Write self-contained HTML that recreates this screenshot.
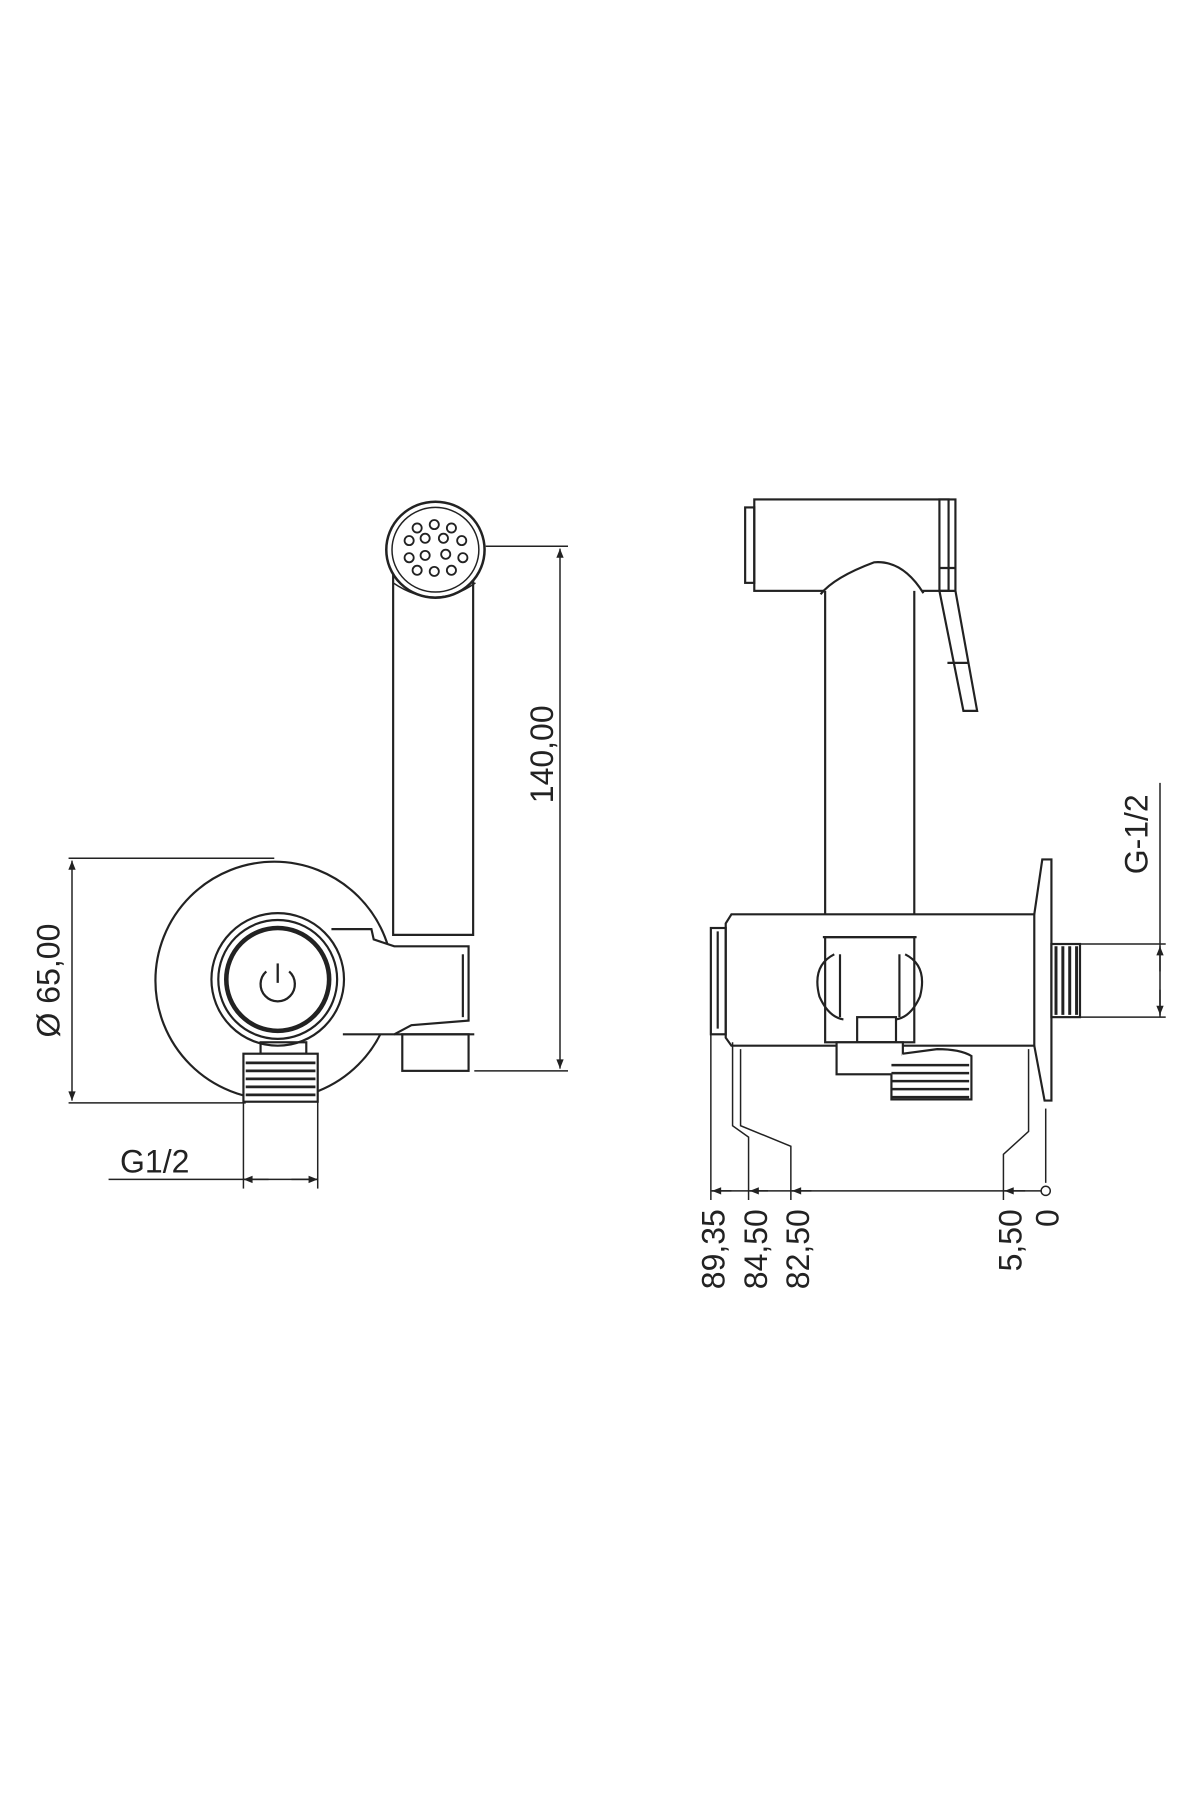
<!DOCTYPE html>
<html><head><meta charset="utf-8"><style>html,body{margin:0;padding:0;background:#fff}svg{display:block}</style></head>
<body>
<svg width="1200" height="1800" viewBox="0 0 1050 1575" xmlns="http://www.w3.org/2000/svg" font-family="Liberation Sans, sans-serif">
<defs>
<marker id="a" viewBox="0 0 10 10" refX="10" refY="5" markerWidth="12" markerHeight="8" orient="auto-start-reverse" markerUnits="userSpaceOnUse"><path d="M0,1 L10,5 L0,9 Z" fill="#222"/></marker>
</defs>
<g fill="none" stroke="#222" stroke-width="1.9">
<!-- LEFT VIEW -->
<circle cx="240" cy="858" r="104"/>
<line x1="60" y1="751" x2="240" y2="751" stroke-width="1.3"/>
<line x1="60" y1="965" x2="215" y2="965" stroke-width="1.3"/>
<line x1="63" y1="753" x2="63" y2="963" stroke-width="1.3" marker-start="url(#a)" marker-end="url(#a)"/>
<!-- arm -->
<path d="M290,813 L325,813 L327,822 L345,828 L410,828 L410,893 L360,897 L345,905 L300,905" fill="#fff"/>
<path d="M405,835 L405,890"/>
<rect x="352" y="905" width="58" height="32" fill="#fff"/>
<line x1="345" y1="905" x2="415" y2="905"/>
<!-- handle -->
<path d="M344,500 L344,818 L414,818 L414,500" fill="#fff"/>
<ellipse cx="381" cy="481" rx="43" ry="42" fill="#fff" stroke-width="2.2"/>
<ellipse cx="381" cy="481" rx="38" ry="37" stroke-width="1.3"/>
<path d="M344,510 Q381,535 416,510" stroke-width="1.3"/>
<g stroke-width="1.6">
<circle cx="365" cy="462" r="4"/><circle cx="380" cy="459" r="4"/><circle cx="395" cy="462" r="4"/>
<circle cx="358" cy="473" r="4"/><circle cx="372" cy="471" r="4"/><circle cx="388" cy="471" r="4"/><circle cx="404" cy="473" r="4"/>
<circle cx="358" cy="488" r="4"/><circle cx="372" cy="486" r="4"/><circle cx="390" cy="485" r="4"/><circle cx="405" cy="488" r="4"/>
<circle cx="365" cy="499" r="4"/><circle cx="380" cy="500" r="4"/><circle cx="395" cy="499" r="4"/>
</g>
<!-- button -->
<circle cx="243" cy="857" r="58" fill="#fff"/>
<circle cx="243" cy="857" r="52"/>
<circle cx="243" cy="857" r="45" stroke-width="4"/>
<path d="M233,850 A15,15 0 1 0 253,850" stroke-width="2"/>
<line x1="243" y1="843" x2="243" y2="860" stroke-width="2"/>
<!-- thread G1/2 -->
<rect x="228" y="912" width="40" height="10"/>
<rect x="213" y="922" width="65" height="42" fill="#fff"/>
<g stroke-width="2.4"><line x1="215" y1="930" x2="276" y2="930"/><line x1="215" y1="937" x2="276" y2="937"/><line x1="215" y1="944" x2="276" y2="944"/><line x1="215" y1="951" x2="276" y2="951"/><line x1="215" y1="958" x2="276" y2="958"/></g>
<line x1="213" y1="964" x2="213" y2="1040" stroke-width="1.3"/>
<line x1="278" y1="964" x2="278" y2="1040" stroke-width="1.3"/>
<line x1="95" y1="1032" x2="278" y2="1032" stroke-width="1.3"/>
<line x1="213" y1="1032" x2="235" y2="1032" marker-start="url(#a)" stroke-width="1.3"/>
<line x1="255" y1="1032" x2="278" y2="1032" marker-end="url(#a)" stroke-width="1.3"/>
<!-- 140 dim -->
<line x1="425" y1="478" x2="497" y2="478" stroke-width="1.3"/>
<line x1="415" y1="937" x2="497" y2="937" stroke-width="1.3"/>
<line x1="490" y1="480" x2="490" y2="935" stroke-width="1.3" marker-start="url(#a)" marker-end="url(#a)"/>

<!-- RIGHT VIEW -->
<rect x="660" y="437" width="170" height="80" fill="#fff"/>
<rect x="652" y="444" width="8" height="66"/>
<path d="M822,437 L836,437 L836,517 L822,517 Z"/>
<line x1="822" y1="497" x2="836" y2="497"/>
<path d="M822,517 L843,622 L855,622 L836,517"/>
<path d="M829,580 L847,580"/>
<path d="M718,520 Q730,505 765,492 Q790,490 808,519" fill="#fff"/>
<path d="M722,517 L722,800 M800,517 L800,800"/>
<!-- horizontal body -->
<path d="M640,800 L905,800 L905,915 L640,915 L635,908 L635,808 Z" fill="#fff"/>
<rect x="622" y="812" width="13" height="93"/>
<line x1="628" y1="815" x2="628" y2="900"/>
<path d="M905,800 L912,752 L920,752 L920,963 L914,963 L905,915"/>
<rect x="920" y="826" width="25" height="64"/>
<g stroke-width="2.6"><line x1="924" y1="828" x2="924" y2="888"/><line x1="930" y1="828" x2="930" y2="888"/><line x1="936" y1="828" x2="936" y2="888"/><line x1="942" y1="828" x2="942" y2="888"/></g>
<!-- valve clip -->
<rect x="722" y="820" width="78" height="92" fill="#fff"/>
<path d="M720,820 L802,820"/>
<path d="M730,835 Q710,845 717,872 Q725,890 738,892"/>
<path d="M792,835 Q812,845 805,872 Q797,890 784,892"/>
<line x1="735" y1="835" x2="735" y2="890"/><line x1="787" y1="835" x2="787" y2="890"/>
<rect x="750" y="890" width="34" height="22"/>
<rect x="732" y="912" width="58" height="28" fill="#fff"/>
<path d="M790,922 L820,918 Q840,918 850,924 L850,962 L780,962 L780,940" fill="#fff"/>
<g stroke-width="2.2"><line x1="780" y1="932" x2="848" y2="932"/><line x1="780" y1="939" x2="848" y2="939"/><line x1="780" y1="946" x2="848" y2="946"/><line x1="780" y1="953" x2="848" y2="953"/><line x1="780" y1="960" x2="848" y2="960"/></g>
<!-- G-1/2 dim -->
<line x1="945" y1="826" x2="1020" y2="826" stroke-width="1.3"/>
<line x1="945" y1="890" x2="1020" y2="890" stroke-width="1.3"/>
<line x1="1015" y1="685" x2="1015" y2="890" stroke-width="1.3"/>
<line x1="1015" y1="828" x2="1015" y2="850" marker-start="url(#a)" stroke-width="1.3"/>
<line x1="1015" y1="866" x2="1015" y2="888" marker-end="url(#a)" stroke-width="1.3"/>
<!-- bottom dims -->
<g stroke-width="1.3">
<line x1="622" y1="905" x2="622" y2="1050"/>
<path d="M641,912 L641,985 L655,995 L655,1050"/>
<path d="M648,918 L648,985 L692,1003 L692,1050"/>
<path d="M900,918 L900,990 L878,1010 L878,1050"/>
<line x1="915" y1="970" x2="915" y2="1035"/>
<line x1="622" y1="1042" x2="911" y2="1042"/>
<line x1="640" y1="1042" x2="623" y2="1042" marker-end="url(#a)"/>
<line x1="672" y1="1042" x2="656" y2="1042" marker-end="url(#a)"/>
<line x1="710" y1="1042" x2="693" y2="1042" marker-end="url(#a)"/>
<line x1="897" y1="1042" x2="879" y2="1042" marker-end="url(#a)"/>
<circle cx="915" cy="1042" r="4"/>
</g>
</g>
<g fill="#222" font-size="28" font-weight="300">
<text x="105" y="1026">G1/2</text>
<text transform="translate(52,858) rotate(-90)" text-anchor="middle">Ø 65,00</text>
<text transform="translate(484,660) rotate(-90)" text-anchor="middle">140,00</text>
<text transform="translate(1004,730) rotate(-90)" text-anchor="middle">G-1/2</text>
<text transform="translate(634,1058) rotate(-90)" text-anchor="end">89,35</text>
<text transform="translate(671,1058) rotate(-90)" text-anchor="end">84,50</text>
<text transform="translate(708,1058) rotate(-90)" text-anchor="end">82,50</text>
<text transform="translate(894,1058) rotate(-90)" text-anchor="end">5,50</text>
<text transform="translate(926,1058) rotate(-90)" text-anchor="end">0</text>
</g>
</svg>
</body></html>
